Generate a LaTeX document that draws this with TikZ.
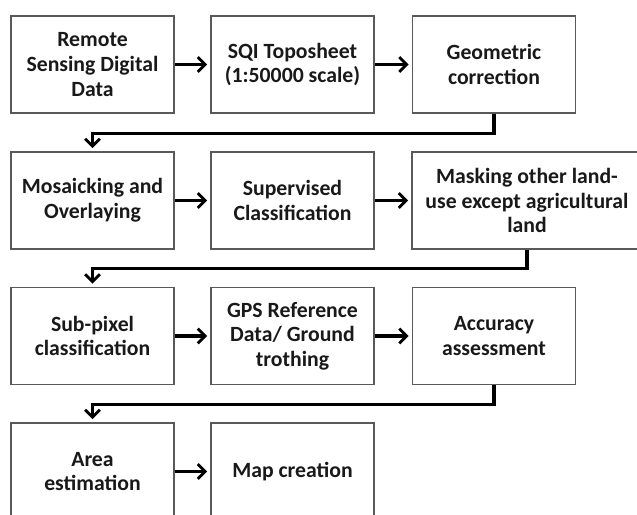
\documentclass[tikz,border=0pt]{standalone}
\usepackage{fontspec}
\setmainfont{Carlito}
\usetikzlibrary{arrows.meta,positioning,calc}

\tikzset{
  stepbox/.style={draw=black!65, line width=0.8pt, fill=white, align=center,
    minimum width=122.25pt, minimum height=72.75pt, inner sep=0pt,
    text=black!90, font=\fontsize{16.3}{18.5}\selectfont\bfseries},
  flow/.style={line width=2.3pt, shorten >=2.5pt,
    -{Straight Barb[length=5.5pt,width=11pt,line width=2.1pt]}}
}

\begin{document}
\begin{tikzpicture}[x=0.75pt,y=-0.75pt]
  \useasboundingbox (0,0) rectangle (637,515);
  \clip (0,0) rectangle (637,515);

  % first row
  \node[stepbox] (rsdata) at (92.5,64.5) {Remote\\Sensing Digital\\Data};
  \node[stepbox] (topo) at (292.5,64.5) {SQI Toposheet\\(1:50000 scale)};
  \node[stepbox] (geocor) at (494,64.5) {Geometric\\correction};

  % second row
  \node[stepbox] (mosaic) at (92.5,200.5) {Mosaicking and\\Overlaying};
  \node[stepbox] (superv) at (292.5,200.5) {Supervised\\Classification};
  \node[stepbox, minimum width=172.5pt] (masking) at (527,200.5)
    {Masking other land-\\use except agricultural\\land};

  % third row
  \node[stepbox] (subpix) at (92.5,336) {Sub-pixel\\classification};
  \node[stepbox] (gps) at (292.5,336) {GPS Reference\\Data/ Ground\\trothing};
  \node[stepbox] (accur) at (494,336) {Accuracy\\assessment};

  % last row
  \node[stepbox] (area) at (92.5,471.5) {Area\\estimation};
  \node[stepbox] (mapcr) at (292.5,471.5) {Map creation};

  \foreach \a/\b in {rsdata/topo, topo/geocor, mosaic/superv, superv/masking,
                     subpix/gps, gps/accur, area/mapcr}
    \draw[flow] (\a) -- (\b);

  \draw[flow] (geocor.south) -- ++(0,20) -| (mosaic.north);
  \draw[flow] (masking.south) -- ++(0,19) -| (subpix.north);
  \draw[flow] (accur.south) -- ++(0,19) -| (area.north);
\end{tikzpicture}
\end{document}
